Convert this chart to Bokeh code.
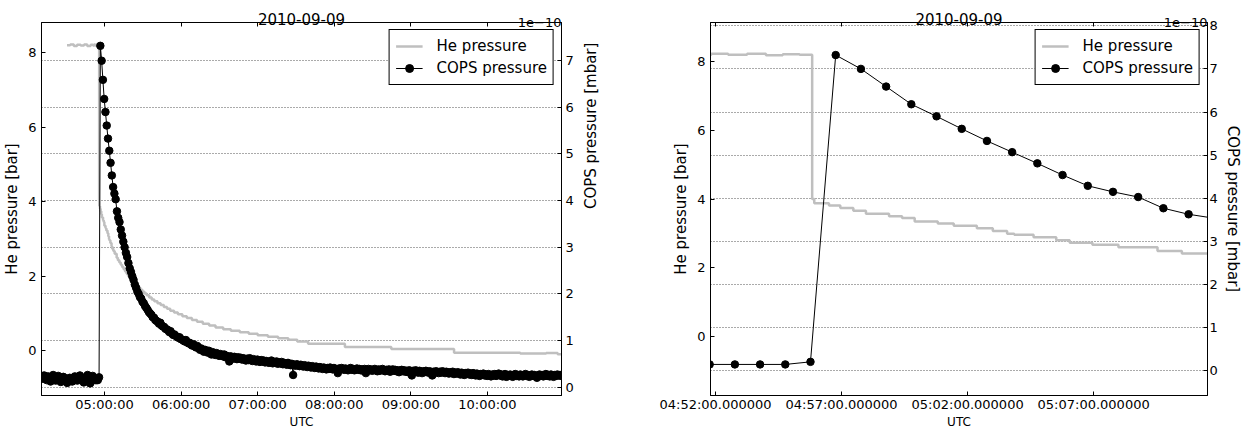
import math
import pandas as pd
from bokeh.plotting import figure
from bokeh.models import (Range1d, LinearAxis, DatetimeAxis, FixedTicker, Grid,
                          DatetimeTickFormatter, Legend, LegendItem, Title)
from bokeh.layouts import row
from bokeh.embed import file_html
from bokeh.resources import INLINE

DATE = "2010-09-09"

# COPS pressure, 1e-10 mbar, one sample per minute starting at cops_start
cops_start = "04:10:46"
cops_step_minutes = 1
cops_before = [0.22, 0.18, 0.25, 0.20, 0.15, 0.23, 0.19, 0.12, 0.21, 0.26,
               0.17, 0.14, 0.20, 0.24, 0.18, 0.11, 0.16, 0.22, 0.19, 0.13,
               0.09, 0.15, 0.20, 0.17, 0.12, 0.18, 0.23, 0.16, 0.14, 0.21,
               0.25, 0.19, 0.15, 0.10, 0.17, 0.22, 0.26, 0.13, 0.08, 0.18,
               0.24, 0.15, 0.15, 0.15, 0.15, 0.21]
cops_after = [7.32, 7.00, 6.59, 6.18, 5.90, 5.61, 5.33, 5.07, 4.81, 4.54,
              4.29, 4.15, 4.03, 3.77, 3.63, 3.54, 3.38, 3.25, 3.12, 3.00,
              2.88, 2.79, 2.66, 2.55, 2.47, 2.38, 2.30, 2.20, 2.13, 2.05,
              2.00, 1.93, 1.90, 1.83, 1.80, 1.74, 1.70, 1.66, 1.61, 1.58,
              1.55, 1.50, 1.49, 1.44, 1.42, 1.40, 1.36, 1.38, 1.32, 1.30,
              1.29, 1.25, 1.24, 1.22, 1.18, 1.20, 1.15, 1.12, 1.13, 1.10,
              1.08, 1.06, 1.07, 1.03, 1.02, 1.00, 0.98, 1.01, 0.96, 0.94,
              0.95, 0.91, 0.89, 0.92, 0.87, 0.85, 0.88, 0.84, 0.80, 0.83,
              0.79, 0.76, 0.80, 0.77, 0.74, 0.78, 0.73, 0.70, 0.75, 0.72,
              0.69, 0.73, 0.70, 0.67, 0.71, 0.68, 0.66, 0.70, 0.64, 0.67,
              0.63, 0.55, 0.66, 0.64, 0.61, 0.65, 0.62, 0.60, 0.64, 0.61,
              0.63, 0.59, 0.62, 0.60, 0.57, 0.61, 0.58, 0.62, 0.59, 0.56,
              0.60, 0.57, 0.55, 0.59, 0.56, 0.54, 0.58, 0.55, 0.57, 0.53,
              0.56, 0.54, 0.52, 0.55, 0.57, 0.51, 0.54, 0.52, 0.55, 0.50,
              0.53, 0.51, 0.54, 0.49, 0.52, 0.50, 0.48, 0.52, 0.49, 0.47,
              0.50, 0.26, 0.48, 0.46, 0.49, 0.47, 0.45, 0.48, 0.46, 0.44,
              0.47, 0.45, 0.43, 0.46, 0.44, 0.42, 0.45, 0.43, 0.41, 0.44,
              0.42, 0.40, 0.43, 0.41, 0.39, 0.42, 0.40, 0.38, 0.41, 0.39,
              0.42, 0.40, 0.38, 0.41, 0.39, 0.37, 0.30, 0.40, 0.38, 0.41,
              0.39, 0.37, 0.40, 0.38, 0.36, 0.39, 0.41, 0.37, 0.39, 0.36,
              0.38, 0.40, 0.37, 0.39, 0.36, 0.38, 0.35, 0.39, 0.30, 0.37,
              0.39, 0.36, 0.38, 0.35, 0.37, 0.39, 0.36, 0.34, 0.38, 0.35,
              0.37, 0.39, 0.36, 0.34, 0.37, 0.35, 0.38, 0.33, 0.36, 0.38,
              0.35, 0.37, 0.34, 0.36, 0.32, 0.35, 0.37, 0.34, 0.36, 0.33,
              0.35, 0.32, 0.36, 0.34, 0.25, 0.35, 0.33, 0.36, 0.34, 0.31,
              0.35, 0.33, 0.30, 0.34, 0.32, 0.35, 0.33, 0.31, 0.34, 0.32,
              0.25, 0.33, 0.31, 0.34, 0.32, 0.30, 0.33, 0.31, 0.34, 0.32,
              0.30, 0.33, 0.31, 0.29, 0.32, 0.30, 0.33, 0.28, 0.31, 0.29,
              0.32, 0.30, 0.27, 0.31, 0.29, 0.26, 0.30, 0.28, 0.31, 0.27,
              0.29, 0.26, 0.30, 0.28, 0.25, 0.29, 0.27, 0.24, 0.28, 0.26,
              0.29, 0.25, 0.27, 0.24, 0.28, 0.26, 0.23, 0.27, 0.25, 0.28,
              0.24, 0.26, 0.29, 0.25, 0.27, 0.23, 0.26, 0.28, 0.22, 0.26,
              0.24, 0.27, 0.25, 0.22, 0.26, 0.28, 0.24, 0.26, 0.23, 0.27,
              0.25, 0.23, 0.26, 0.28, 0.24, 0.26, 0.22, 0.25, 0.27, 0.24,
              0.26, 0.23, 0.20, 0.25, 0.27, 0.24, 0.26, 0.23, 0.25, 0.28,
              0.24, 0.26, 0.23, 0.27, 0.25, 0.22, 0.26, 0.24, 0.27, 0.25,
              0.26, 0.24, 0.27]
cops_e10 = cops_before + cops_after

# He pressure [bar], staircase change points
he_times = ["04:30:40", "04:33:10", "04:36:00", "04:38:30", "04:41:20", "04:44:00",
            "04:46:30", "04:49:10", "04:51:00", "04:51:50", "04:52:30", "04:53:15",
            "04:54:00", "04:54:40", "04:55:20",
            "04:55:50", "04:55:55", "04:56:30", "04:56:57", "04:57:28", "04:57:58",
            "04:58:53", "04:59:24", "04:59:54", "05:00:49", "05:01:27", "05:02:22",
            "05:03:00", "05:03:34", "05:03:51", "05:04:37", "05:05:31", "05:06:03",
            "05:06:57", "05:07:59", "05:09:32", "05:10:30",
            "05:11:40", "05:12:45", "05:13:50", "05:15:00", "05:16:10", "05:17:20",
            "05:18:30", "05:19:40", "05:21:00", "05:22:20", "05:23:40", "05:25:00",
            "05:26:30", "05:28:00", "05:29:40", "05:31:20", "05:33:00", "05:35:00",
            "05:37:00", "05:39:00", "05:41:30", "05:44:00", "05:46:30", "05:49:00",
            "05:51:30", "05:54:30", "05:57:30", "06:01:00", "06:04:30", "06:08:30",
            "06:12:30", "06:17:00", "06:22:00", "06:27:00", "06:33:00", "06:39:00",
            "06:46:00", "06:53:00", "07:00:00", "07:08:00", "07:16:00", "07:24:00",
            "07:31:00", "07:39:30", "08:08:20", "08:44:40", "09:33:50", "10:25:40",
            "10:46:00", "10:55:00", "10:58:00"]
he_bar = [8.20, 8.22, 8.18, 8.21, 8.19, 8.22, 8.18, 8.21, 8.19, 8.22, 8.19, 8.22,
          8.18, 8.21, 8.19,
          4.00, 3.88, 3.81, 3.74, 3.66, 3.57, 3.50, 3.45, 3.35, 3.29, 3.22, 3.15,
          3.07, 2.99, 2.96, 2.89, 2.80, 2.73, 2.67, 2.60, 2.49, 2.42,
          2.36, 2.30, 2.24, 2.18, 2.12, 2.06, 2.00, 1.95, 1.90, 1.84, 1.79, 1.74,
          1.69, 1.63, 1.58, 1.53, 1.48, 1.42, 1.37, 1.32, 1.27, 1.22, 1.17, 1.12,
          1.07, 1.02, 0.97, 0.92, 0.87, 0.82, 0.77, 0.72, 0.67, 0.62, 0.57, 0.53,
          0.49, 0.45, 0.41, 0.37, 0.33, 0.29, 0.24, 0.18, 0.09, 0.04, -0.06, -0.08,
          -0.07, -0.10, -0.10]

# axes
left_x_window = ["04:10:40", "10:58:00"]
right_x_window = ["04:51:48", "05:11:31"]
left_x_ticks = ["05:00:00", "06:00:00", "07:00:00", "08:00:00", "09:00:00", "10:00:00"]
right_x_ticks = ["04:52:00", "04:57:00", "05:02:00", "05:07:00"]
left_x_format = "%H:%M:%S"
right_x_format = "%H:%M:%S.000000"
he_ticks = [0, 2, 4, 6, 8]
left_cops_ticks = [0, 1, 2, 3, 4, 5, 6, 7]
right_cops_ticks = [0, 1, 2, 3, 4, 5, 6, 7, 8]
left_he_range = [-1.21, 8.81]
left_cops_range = [-0.18, 7.82]
right_he_range = [-1.71, 9.13]
right_cops_range = [-0.57, 8.075]

TITLE = "2010-09-09"
SCALE_TEXT = "1e\u221210"
FONT = "DejaVu Sans"
TICK_FS = "13px"
XLABEL_FS = "12px"
YLABEL_FS = "15px"
BIG_FS = "15px"


def ms(t):
    return pd.Timestamp(f"{DATE} {t}").value / 1e6


cops_x = [ms(cops_start) + i * cops_step_minutes * 60000.0 for i in range(len(cops_e10))]
he_x = [ms(t) for t in he_times]


def style_axis(ax, label_standoff, axis_label_standoff, label_fs):
    ax.major_tick_in = 4
    ax.major_tick_out = 0
    ax.minor_tick_in = 0
    ax.minor_tick_out = 0
    ax.major_tick_line_color = "black"
    ax.axis_line_color = "black"
    ax.major_label_text_font = FONT
    ax.major_label_text_font_size = TICK_FS
    ax.major_label_text_color = "black"
    ax.axis_label_text_font = FONT
    ax.axis_label_text_font_size = label_fs
    ax.axis_label_text_font_style = "normal"
    ax.axis_label_text_color = "black"
    ax.major_label_standoff = label_standoff
    ax.axis_label_standoff = axis_label_standoff


def panel(width, bl, br, xwin, xticks, xfmt, he_rng, cops_rng, cops_ticks, rstand,
          rorient):
    p = figure(width=width, height=431, output_backend="svg", toolbar_location=None,
               x_axis_type=None, y_axis_type=None,
               min_border_left=bl, min_border_right=br, min_border_top=22,
               min_border_bottom=30)
    p.x_range = Range1d(ms(xwin[0]), ms(xwin[1]))
    p.y_range = Range1d(*cops_rng)
    p.extra_y_ranges = {"he": Range1d(*he_rng)}
    p.outline_line_color = "black"
    p.outline_line_width = 1
    p.outline_line_alpha = 1
    p.background_fill_color = "white"
    p.border_fill_color = "white"

    fmt = DatetimeTickFormatter(microseconds=xfmt, milliseconds=xfmt, seconds=xfmt,
                                minsec=xfmt, minutes=xfmt, hourmin=xfmt, hours=xfmt,
                                days=xfmt, months=xfmt, years=xfmt)
    xt = FixedTicker(ticks=[ms(t) for t in xticks])
    xb = DatetimeAxis(ticker=xt, formatter=fmt, axis_label="UTC")
    style_axis(xb, 1, 0, XLABEL_FS)
    p.add_layout(xb, "below")
    xa = DatetimeAxis(ticker=xt, formatter=fmt)
    style_axis(xa, 0, 0, XLABEL_FS)
    xa.major_label_text_font_size = "1px"
    xa.major_label_text_color = None
    p.add_layout(xa, "above")

    sub = Title(text=SCALE_TEXT, align="right", text_font=FONT, text_font_size=TICK_FS,
                text_font_style="normal", text_color="black", standoff=-8)
    p.add_layout(sub, "above")

    yl = LinearAxis(y_range_name="he", ticker=FixedTicker(ticks=he_ticks),
                    axis_label="He pressure [bar]")
    style_axis(yl, 5, 4, YLABEL_FS)
    p.add_layout(yl, "left")
    yr = LinearAxis(ticker=FixedTicker(ticks=cops_ticks), axis_label="COPS pressure [mbar]")
    style_axis(yr, rstand[0], rstand[1], YLABEL_FS)
    yr.axis_label_orientation = rorient
    p.add_layout(yr, "right")

    g = Grid(dimension=1, ticker=FixedTicker(ticks=cops_ticks), grid_line_color="#555555",
             grid_line_dash="1 2", grid_line_width=1)
    p.add_layout(g)

    he_r = p.step(he_x, he_bar, mode="after", line_color="#bfbfbf", line_width=2.5,
                  y_range_name="he")
    cl = p.line(cops_x, cops_e10, line_color="black", line_width=1)
    cs = p.scatter(cops_x, cops_e10, size=7.5, fill_color="black", line_color="black")

    leg = Legend(items=[LegendItem(label="He pressure", renderers=[he_r]),
                        LegendItem(label="COPS pressure", renderers=[cl, cs])],
                 location="top_right")
    leg.label_text_font = FONT
    leg.label_text_font_size = BIG_FS
    leg.label_text_color = "black"
    leg.border_line_color = "black"
    leg.border_line_width = 1
    leg.border_line_alpha = 1
    leg.background_fill_alpha = 1
    leg.glyph_width = 27
    leg.glyph_height = 20
    leg.label_height = 20
    leg.label_standoff = 14
    leg.padding = 6
    leg.spacing = 2
    leg.margin = 7
    p.add_layout(leg)

    p.title.text = TITLE
    p.title.align = "center"
    p.title.text_font = FONT
    p.title.text_font_size = BIG_FS
    p.title.text_font_style = "normal"
    p.title.text_color = "black"
    p.title.standoff = -10
    return p


p1 = panel(630, 36, 69, left_x_window, left_x_ticks, left_x_format,
           left_he_range, left_cops_range, left_cops_ticks, (4, 14), math.pi / 2)
p2 = panel(614, 80, 28, right_x_window, right_x_ticks, right_x_format,
           right_he_range, right_cops_range, right_cops_ticks, (2, 3), "parallel")

layout = row(p1, p2)
open("out.html", "w").write(file_html(layout, INLINE))
